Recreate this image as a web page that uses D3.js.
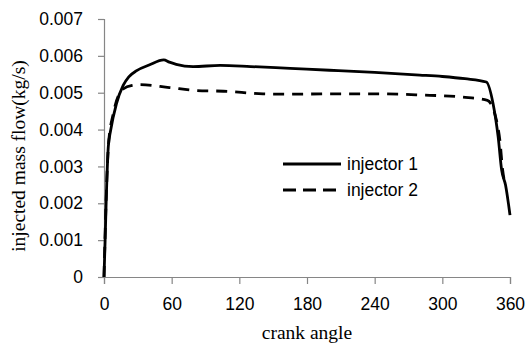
<!DOCTYPE html>
<html>
<head>
<meta charset="utf-8">
<script src="https://cdn.jsdelivr.net/npm/d3@7"></script>
<style>
  body { margin: 0; background: #fff; }
</style>
</head>
<body>
<script>
// crank angle (deg) vs injected mass flow (kg/s)
var angle1 = [0, 1, 1.8, 3.8, 5.9, 11, 17, 22, 29, 40, 53, 58, 64, 79, 103, 130, 165, 200, 240, 280, 300, 320, 339, 345, 349.5, 352.6, 356, 360];
var flow1  = [0, 0.0010, 0.0019, 0.00353, 0.00398, 0.0047, 0.0052, 0.00543, 0.0056, 0.00575, 0.00589, 0.00583, 0.00577, 0.00571, 0.00574, 0.00571, 0.00566, 0.00561, 0.00555, 0.00548, 0.00544, 0.00538, 0.00529, 0.0047, 0.0038, 0.0029, 0.0025, 0.00168];

var angle2 = [0, 2, 4, 8, 17, 25, 32, 58, 82, 106, 141, 165, 200, 245, 280, 318, 340, 348, 351, 353.5, 355];
var flow2  = [0, 0.0022, 0.0036, 0.0044, 0.0051, 0.0052, 0.00522, 0.00514, 0.00506, 0.00504, 0.00497, 0.00496, 0.00497, 0.00497, 0.00494, 0.00488, 0.00479, 0.00425, 0.00371, 0.0029, 0.0026];

var xTicks = [0, 60, 120, 180, 240, 300, 360];
var yTicks = [0, 0.001, 0.002, 0.003, 0.004, 0.005, 0.006, 0.007];
var seriesNames = ["injector 1", "injector 2"];

var W = 527, H = 345;
var margin = { top: 19, right: 17, bottom: 68, left: 104 };
var width = W - margin.left - margin.right,
    height = H - margin.top - margin.bottom;

var svg = d3.select("body").append("svg")
    .attr("width", W)
    .attr("height", H)
    .append("g")
    .attr("transform", "translate(" + margin.left + "," + margin.top + ")");

var x = d3.scaleLinear().domain([0, 360]).range([0, width]);
var y = d3.scaleLinear().domain([0, 0.007]).range([height, 0]);

var axisColor = "#868686";
var tickFont = "'Liberation Sans', Arial, sans-serif";

var xAxis = svg.append("g")
    .attr("transform", "translate(0," + height + ")")
    .call(d3.axisBottom(x).tickValues(xTicks).tickSize(7).tickPadding(14).tickFormat(d3.format("d")));

var yAxis = svg.append("g")
    .call(d3.axisLeft(y).tickValues(yTicks).tickSize(6).tickPadding(15)
        .tickFormat(function (d) { return d === 0 ? "0" : d3.format(".3f")(d); }));

[xAxis, yAxis].forEach(function (a) {
    a.select(".domain").attr("stroke", axisColor).attr("stroke-width", 1.2);
    a.selectAll(".tick line").attr("stroke", axisColor).attr("stroke-width", 1.2);
    a.selectAll(".tick text")
        .attr("fill", "#000")
        .style("font-family", tickFont)
        .style("font-size", "17.5px");
});

// lines
var line = d3.line()
    .x(function (d) { return x(d[0]); })
    .y(function (d) { return y(d[1]); })
    .curve(d3.curveMonotoneX);

var data1 = angle1.map(function (a, i) { return [a, flow1[i]]; });
var data2 = angle2.map(function (a, i) { return [a, flow2[i]]; });

svg.append("path")
    .datum(data2)
    .attr("fill", "none")
    .attr("stroke", "#000")
    .attr("stroke-width", 2.8)
    .attr("stroke-dasharray", "11,8")
    .attr("d", line);

svg.append("path")
    .datum(data1)
    .attr("fill", "none")
    .attr("stroke", "#000")
    .attr("stroke-width", 2.8)
    .attr("d", line);

// legend
var legend = svg.append("g").attr("transform", "translate(179,145)");
seriesNames.forEach(function (name, i) {
    var g = legend.append("g").attr("transform", "translate(0," + (i * 26) + ")");
    g.append("line")
        .attr("x1", 0).attr("x2", 58)
        .attr("stroke", "#000")
        .attr("stroke-width", 2.8)
        .attr("stroke-dasharray", i === 1 ? "13,7" : null);
    g.append("text")
        .attr("x", 64)
        .attr("dy", "0.35em")
        .style("font-family", tickFont)
        .style("font-size", "17.5px")
        .text(name);
});

// axis titles
svg.append("text")
    .attr("x", width / 2)
    .attr("y", height + 62)
    .attr("text-anchor", "middle")
    .style("font-family", "'Liberation Serif', 'Times New Roman', serif")
    .style("font-size", "19.5px")
    .text("crank angle");

svg.append("text")
    .attr("transform", "translate(" + (-79) + "," + (height / 2 + 8) + ")rotate(-90)")
    .attr("text-anchor", "middle")
    .style("font-family", "'Liberation Serif', 'Times New Roman', serif")
    .style("font-size", "19.5px")
    .text("injected mass flow(kg/s)");
</script>
</body>
</html>
